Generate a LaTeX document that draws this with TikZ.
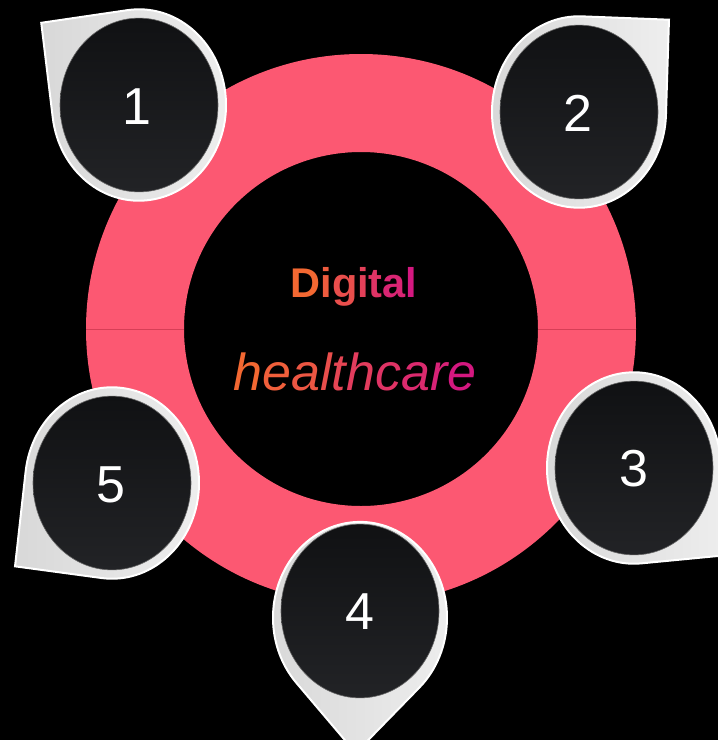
\documentclass[tikz,border=0pt]{standalone}
\usepackage{fontspec}
\setmainfont{Liberation Sans}
\definecolor{ringpink}{RGB}{252,88,114}
\definecolor{ringline}{RGB}{214,62,86}
\definecolor{hot}{RGB}{243,104,50}
\definecolor{mag}{RGB}{212,24,128}
\definecolor{facetop}{RGB}{16,17,19}
\definecolor{facebot}{RGB}{34,35,38}
\definecolor{rimlt}{RGB}{238,238,238}
\definecolor{rimdk}{RGB}{216,216,216}
\tikzset{
  pinbody/.style={draw=white,line width=2pt,left color=rimdk,right color=rimlt},
  pinface/.style={top color=facetop,bottom color=facebot,draw=black!60,line width=0.6pt},
  pinnum/.style={text=white,inner sep=0pt,font=\fontsize{52}{58}\selectfont},
}
\begin{document}
\begin{tikzpicture}[x=1pt,y=1pt,yscale=-1]
  \useasboundingbox (0,0) rectangle (718,740);
  \clip (0,0) rectangle (718,740);
  \fill[black] (0,0) rectangle (718,740);
  % ring
  \fill[ringpink,even odd rule] (361,329) circle[radius=275] (361,329) circle[radius=177];
  \draw[ringline,line width=1pt] (86,329) -- (184,329);
  \draw[ringline,line width=1pt] (538,329) -- (636,329);
  % title
  \node[anchor=base,inner sep=0pt,font=\bfseries\fontsize{41.5}{48}\selectfont] (digital) at (354,297)
    {\foreach \ch [count=\i] in {D,i,g,i,t,a,l}{\pgfmathtruncatemacro\mixpct{(\i-1)*100/6}\textcolor{mag!\mixpct!hot}{\ch}}};
  \node[anchor=base,inner sep=0pt,font=\itshape\fontsize{52}{60}\selectfont] (healthcare) at (355,390)
    {\foreach \ch [count=\i] in {h,e,a,l,t,h,c,a,r,e}{\pgfmathtruncatemacro\mixpct{(\i-1)*100/9}\textcolor{mag!\mixpct!hot}{\ch}}};
  % pins
  \foreach \n/\cx/\cy/\rot/\oy/\tx/\ty in {1/139/105/172.4/0/137/107, 2/579/112/-88/0/578/113, 3/634/468/-5/0/634/469,
      4/360/611/47/6/360/612, 5/112/483/97/0/111/485}{
    \begin{scope}[shift={(\cx,\cy)},yscale=1.1]
      \path[pinbody,shift={(0,\oy)},rotate=\rot] (87,0) -- (87,87) -- (0,87) arc[start angle=90,end angle=360,radius=87] -- cycle;
      \path[pinface] (0,0) circle[radius=79];
    \end{scope}
    \node[pinnum] (num\n) at (\tx,\ty) {\n};
  }
\end{tikzpicture}
\end{document}
